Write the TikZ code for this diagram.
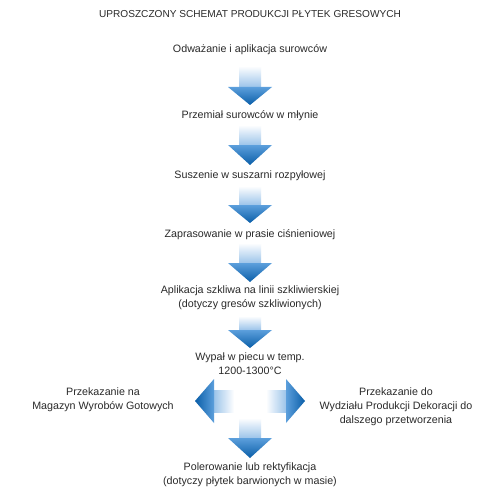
\documentclass[tikz,border=0pt]{standalone}
\usepackage{fontspec}
\setmainfont{Liberation Sans}
\definecolor{shaftblue}{HTML}{9CC4EA}
\definecolor{headtop}{HTML}{5C9FDC}
\definecolor{headtip}{HTML}{0A5EA8}
\definecolor{txt}{HTML}{2A2A2A}
\tikzset{
  lbl/.style={align=center, font=\fontsize{10.7}{14}\selectfont, text=txt, inner sep=0pt},
  ttl/.style={font=\fontsize{10.1}{12}\selectfont, text=txt, inner sep=0pt}
}
% vertical arrow: x center, y top of shaft, y head base, y tip
\newcommand{\vArr}[4]{%
  \shade[top color=white, bottom color=shaftblue] (#1-11,#2) rectangle (#1+11,#3);
  \shade[top color=headtop, bottom color=headtip] (#1-22,#3) -- (#1+22,#3) -- (#1,#4) -- cycle;
}
\begin{document}
\begin{tikzpicture}[x=1pt,y=-1pt]
\useasboundingbox (0,0) rectangle (500,500);
\fill[white] (0,0) rectangle (500,500);
\node[ttl] (title) at (250,14) {UPROSZCZONY SCHEMAT PRODUKCJI PŁYTEK GRESOWYCH};
\node[lbl] (s1) at (250,50) {Odważanie i aplikacja surowców};
\node[lbl] (s2) at (250,116) {Przemiał surowców w młynie};
\node[lbl] (s3) at (250,176) {Suszenie w suszarni rozpyłowej};
\node[lbl] (s4) at (250,235) {Zaprasowanie w prasie ciśnieniowej};
\node[lbl] (s5) at (250,297.5) {Aplikacja szkliwa na linii szkliwierskiej\\(dotyczy gresów szkliwionych)};
\node[lbl] (s6) at (250,363.5) {Wypał w piecu w temp.\\1200-1300°C};
\node[lbl] (left) at (103,399.5) {Przekazanie na\\Magazyn Wyrobów Gotowych};
\node[lbl] (right) at (396,406.5) {Przekazanie do\\Wydziału Produkcji Dekoracji do\\dalszego przetworzenia};
\node[lbl] (s7) at (250,474.5) {Polerowanie lub rektyfikacja\\(dotyczy płytek barwionych w masie)};
\vArr{250}{66}{87}{105}
\vArr{250}{125}{145}{165}
\vArr{250}{186}{205}{223}
\vArr{250}{243}{263}{282}
\vArr{250}{316}{330}{348}
% cross
\shade[left color=shaftblue, right color=white] (214,390) rectangle (234,412);
\shade[left color=headtip, right color=headtop] (195,401) -- (214,379) -- (214,423) -- cycle;
\shade[left color=white, right color=shaftblue] (266,390) rectangle (286,412);
\shade[left color=headtop, right color=headtip] (305,401) -- (286,379) -- (286,423) -- cycle;
\vArr{250}{418}{438}{458}
\end{tikzpicture}
\end{document}
